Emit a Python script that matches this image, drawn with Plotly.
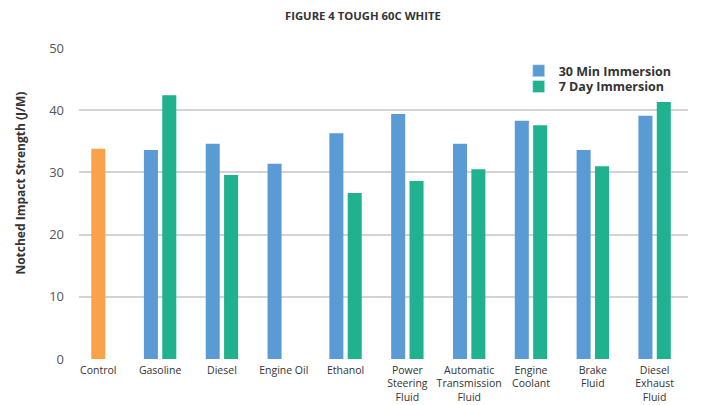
import plotly.graph_objects as go

categories = ["Control", "Gasoline", "Diesel", "Engine Oil", "Ethanol",
              "Power<br>Steering<br>Fluid", "Automatic<br>Transmission<br>Fluid",
              "Engine<br>Coolant", "Brake<br>Fluid", "Diesel<br>Exhaust<br>Fluid"]
min30 = [33.8, 33.6, 34.6, 31.4, 36.3, 39.4, 34.6, 38.3, 33.6, 39.1]
day7 = [None, 42.4, 29.6, None, 26.7, 28.6, 30.5, 37.6, 31.0, 41.3]
y_ticks = [0, 10, 20, 30, 40, 50]

BLUE = "#5B9BD5"
GREEN = "#20B18F"
ORANGE = "#F9A24B"

x_idx = list(range(len(categories)))
w = 0.227
gap = 0.035
blue_offsets = [-w / 2] + [-(w + gap)] * (len(categories) - 1)
blue_colors = [ORANGE] + [BLUE] * (len(categories) - 1)

fig = go.Figure()
fig.add_trace(go.Bar(x=x_idx, y=min30, name="30 Min Immersion", showlegend=False,
                     width=w, offset=blue_offsets,
                     marker=dict(color=blue_colors, line=dict(width=0))))
fig.add_trace(go.Bar(x=x_idx, y=day7, name="7 Day Immersion", showlegend=False,
                     width=w, offset=gap,
                     marker=dict(color=GREEN, line=dict(width=0))))
fig.add_trace(go.Bar(x=[None], y=[None], name="<b>30 Min Immersion</b>",
                     marker=dict(color=BLUE), legend="legend"))
fig.add_trace(go.Bar(x=[None], y=[None], name="<b>7 Day Immersion</b>",
                     marker=dict(color=GREEN), legend="legend2"))

leg_common = dict(xanchor="left", yanchor="top", bgcolor="rgba(0,0,0,0)",
                  font=dict(size=12.5, color="#333333"), itemwidth=30)

fig.update_layout(
    barmode="overlay",
    width=713, height=405,
    margin=dict(l=79, r=25, t=48, b=46, autoexpand=False),
    paper_bgcolor="white", plot_bgcolor="white",
    font=dict(family="Open Sans, Noto Sans, sans-serif", color="#333333"),
    title=dict(text="<b>FIGURE 4 TOUGH 60C WHITE</b>", x=0.509, xref="container",
               xanchor="center", y=0.96, yref="container", yanchor="middle",
               font=dict(size=11.3, color="#333333")),
    xaxis=dict(tickmode="array", tickvals=x_idx, ticktext=categories,
               range=[-0.312, 9.54], showgrid=False, zeroline=False,
               showline=False, ticks="", tickangle=0, automargin=False,
               ticklabelstandoff=3,
               tickfont=dict(size=10.5, color="#333333")),
    yaxis=dict(range=[0, 50], tickvals=y_ticks, showgrid=True,
               gridcolor="#D3D3D3", gridwidth=2, zeroline=False,
               ticks="", ticklabelstandoff=14, automargin=False,
               tickfont=dict(size=13, color="#555555")),
    legend=dict(x=0.722, y=0.974, **leg_common),
    legend2=dict(x=0.722, y=0.923, **leg_common),
    showlegend=True,
    annotations=[dict(text="<b>Notched Impact Strength (J/M)</b>",
                      xref="paper", yref="paper", x=-(79 - 21) / 609, y=0.564,
                      xanchor="center", yanchor="middle", textangle=-90,
                      showarrow=False, font=dict(size=12, color="#333333"))],
)

fig.write_html("out.html", post_script="document.body.style.margin='0';",
               config={"displayModeBar": False})
